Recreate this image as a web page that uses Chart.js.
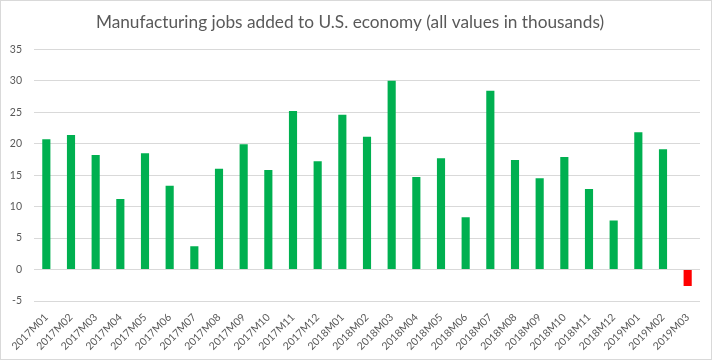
<!DOCTYPE html>
<html>
<head>
<meta charset="utf-8">
<script src="https://cdn.jsdelivr.net/npm/chart.js@4/dist/chart.umd.min.js"></script>
<style>
  html, body { margin: 0; padding: 0; background: #ffffff; }
  #wrap { width: 714px; height: 361px; position: relative; }
</style>
</head>
<body>
<div id="wrap"><canvas id="c" width="714" height="361"></canvas></div>
<script>
const titleText = "Manufacturing jobs added to U.S. economy (all values in thousands)";
const categories = ["2017M01","2017M02","2017M03","2017M04","2017M05","2017M06","2017M07","2017M08","2017M09","2017M10","2017M11","2017M12",
  "2018M01","2018M02","2018M03","2018M04","2018M05","2018M06","2018M07","2018M08","2018M09","2018M10","2018M11","2018M12",
  "2019M01","2019M02","2019M03"];
const jobsAdded = [20.7, 21.4, 18.2, 11.2, 18.5, 13.3, 3.7, 16.0, 19.9, 15.8, 25.2, 17.2,
  24.6, 21.1, 30.0, 14.7, 17.7, 8.3, 28.4, 17.4, 14.5, 17.9, 12.8, 7.8,
  21.8, 19.1, -2.6];
const yTicks = [-5, 0, 5, 10, 15, 20, 25, 30, 35];

// fit title font size to the reference title width
const mc = document.createElement('canvas').getContext('2d');
let titleSize = 18;
for (let s = 14; s <= 24; s += 0.25) {
  mc.font = s + "px Lato";
  if (mc.measureText(titleText).width <= 515) titleSize = s;
}

const borderPlugin = {
  id: 'frame',
  beforeDraw(chart) {
    const ctx = chart.ctx;
    ctx.save();
    ctx.fillStyle = '#ffffff';
    ctx.fillRect(0, 0, chart.width, chart.height);
    ctx.restore();
  },
  afterDraw(chart) {
    const ctx = chart.ctx;
    ctx.save();
    ctx.strokeStyle = '#d9d9d9';
    ctx.lineWidth = 1;
    ctx.strokeRect(0.5, 0.5, 711, 359);
    ctx.restore();
  }
};

new Chart(document.getElementById('c'), {
  type: 'bar',
  data: {
    labels: categories,
    datasets: [{
      data: jobsAdded,
      backgroundColor: ctx => (ctx.raw < 0 ? '#ff0000' : '#00b050'),
      borderWidth: 0,
      barPercentage: 0.33,
      categoryPercentage: 1.0
    }]
  },
  options: {
    responsive: false,
    animation: false,
    devicePixelRatio: 1,
    layout: { padding: { top: 0, right: 14, bottom: 0, left: 0 } },
    plugins: {
      legend: { display: false },
      tooltip: { enabled: false },
      title: {
        display: true,
        text: titleText,
        color: '#595959',
        font: { family: 'Lato', size: titleSize, weight: 'normal', lineHeight: '22px' },
        padding: { top: 11, bottom: 16.3 }
      }
    },
    scales: {
      x: {
        offset: true,
        grid: { display: false, drawTicks: false },
        border: { display: false },
        ticks: {
          color: '#595959',
          font: { family: 'Lato', size: 10.5 },
          minRotation: 45,
          maxRotation: 45,
          autoSkip: false,
          padding: 10
        },
        afterFit: s => { s.height = 60; }
      },
      y: {
        min: -5,
        max: 35,
        afterBuildTicks: s => { s.ticks = yTicks.map(v => ({ value: v })); },
        grid: { color: '#d9d9d9', lineWidth: 1, drawTicks: false },
        border: { display: false },
        ticks: {
          color: '#595959',
          font: { family: 'Lato', size: 10.5 },
          padding: 12
        },
        afterFit: s => { s.width = 34; }
      }
    }
  },
  plugins: [borderPlugin]
});
</script>
</body>
</html>
